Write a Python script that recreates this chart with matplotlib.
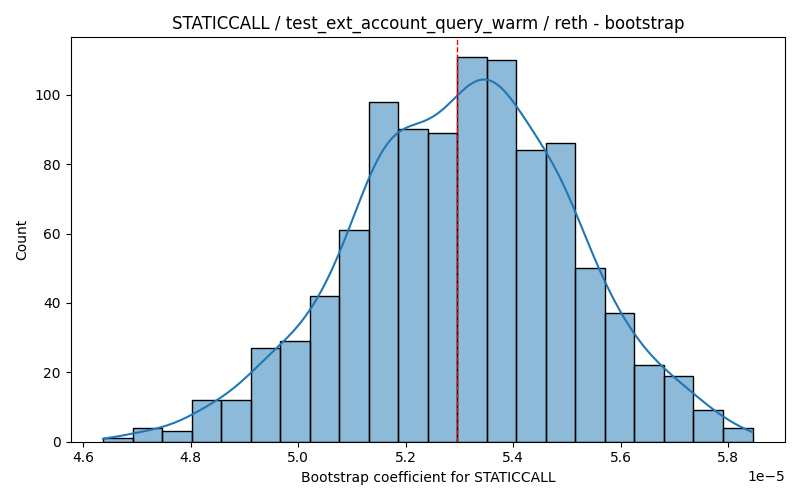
import matplotlib
matplotlib.use("Agg")
import matplotlib.pyplot as plt
import numpy as np

# histogram: 22 bins, 1000 bootstrap samples
bin_lo = 4.637e-5
bin_hi = 5.845e-5
counts = [1, 4, 3, 12, 12, 27, 29, 42, 61, 98, 90, 89,
          111, 110, 84, 86, 50, 37, 22, 19, 9, 4]
true_coef = 5.295e-5

counts = np.array(counts, dtype=float)
edges = np.linspace(bin_lo, bin_hi, len(counts) + 1)
centers = (edges[:-1] + edges[1:]) / 2
width = edges[1] - edges[0]
n = counts.sum()

fig, ax = plt.subplots(figsize=(8, 5), dpi=100)
ax.bar(centers, counts, width=width, color=(0.122, 0.467, 0.706, 0.5),
       edgecolor="black", linewidth=1)

# kde like seaborn's (scott bandwidth), estimated from the binned counts
mean = np.sum(counts * centers) / n
var = np.sum(counts * (centers - mean) ** 2) / n - width ** 2 / 12
bw = n ** (-1 / 5) * np.sqrt(var)
grid = np.linspace(bin_lo, bin_hi, 200)
dens = np.sum(counts[None, :] * np.exp(-0.5 * ((grid[:, None] - centers[None, :]) / bw) ** 2),
              axis=1) / (n * bw * np.sqrt(2 * np.pi))
ax.plot(grid, dens * n * width, color="C0", linewidth=1.5)

ax.axvline(true_coef, color="red", linestyle="--", linewidth=1)
ax.set_ylim(0, counts.max() * 1.05)
ax.set_title("STATICCALL / test_ext_account_query_warm / reth - bootstrap")
ax.set_xlabel("Bootstrap coefficient for STATICCALL")
ax.set_ylabel("Count")
plt.tight_layout()
plt.savefig("out.png")
